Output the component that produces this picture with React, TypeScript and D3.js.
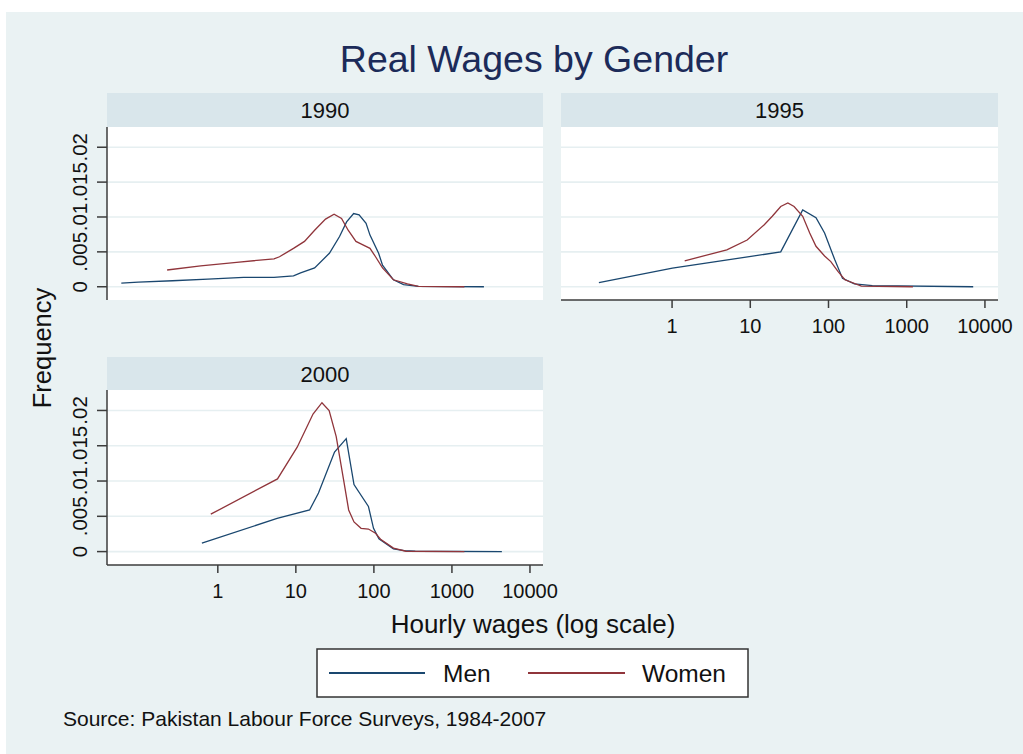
import React from "react";
import * as d3 from "d3";

// ---------- data ----------
const years = ["1990", "1995", "2000"];
const seriesNames = ["Men", "Women"];
const xTickValues = [1, 10, 100, 1000, 10000];
const xTickLabels = ["1", "10", "100", "1000", "10000"];
const yTickValues = [0, 0.005, 0.01, 0.015, 0.02];
const yTickLabels = ["0", ".005", ".01", ".015", ".02"];

const men1990Wage = [0.058, 0.096, 0.263, 0.746, 2.14, 5.25, 9.33, 11.5, 17.4, 26.9, 36.3, 44.7, 55.0, 64.6, 79.4, 89.1, 115, 129, 178, 240, 372, 2570];
const men1990Freq = [0.00053, 0.00067, 0.00086, 0.0011, 0.00133, 0.00133, 0.00157, 0.002, 0.0027, 0.0048, 0.0072, 0.0093, 0.0105, 0.0103, 0.0091, 0.0074, 0.0048, 0.0031, 0.001, 0.0003, 0.00005, 0];
const women1990Wage = [0.224, 0.603, 1.74, 5.25, 6.17, 9.33, 12.9, 17.4, 24.0, 30.9, 38.5, 46.8, 58.9, 69.2, 89.1, 105, 129, 178, 269, 372, 1445];
const women1990Freq = [0.0024, 0.003, 0.0035, 0.004, 0.0043, 0.0055, 0.0065, 0.0081, 0.0097, 0.0104, 0.0098, 0.0081, 0.0065, 0.0061, 0.0055, 0.0043, 0.0027, 0.001, 0.0004, 0.00005, 0];

const men1995Wage = [0.116, 1.01, 10.2, 24.5, 46.8, 69.2, 89.1, 120, 151, 214, 363, 7080];
const men1995Freq = [0.00058, 0.00266, 0.00435, 0.005, 0.011, 0.0099, 0.0077, 0.0039, 0.0012, 0.0004, 0.00015, 0];
const women1995Wage = [1.45, 5.01, 9.12, 15.1, 19.1, 24.5, 30.2, 36.3, 46.8, 57.5, 69.2, 89.1, 107, 132, 162, 263, 1200];
const women1995Freq = [0.0037, 0.0053, 0.0067, 0.0089, 0.0101, 0.0115, 0.012, 0.0115, 0.0101, 0.0077, 0.0058, 0.0044, 0.0036, 0.0022, 0.001, 0.0001, 0];

const men2000Wage = [0.625, 5.75, 15.0, 19.5, 31.3, 44.2, 55.6, 85.1, 98.9, 116, 178, 245, 339, 4365];
const men2000Freq = [0.0012, 0.0047, 0.0059, 0.0083, 0.0141, 0.016, 0.0095, 0.0064, 0.0033, 0.0018, 0.0004, 0.00015, 0.00005, 0];
const women2000Wage = [0.813, 5.82, 10.4, 16.6, 21.6, 26.7, 32.9, 40.7, 47.5, 55.6, 68.5, 85.1, 105, 123, 178, 257, 1445];
const women2000Freq = [0.0053, 0.0103, 0.0148, 0.0195, 0.0211, 0.02, 0.0163, 0.0103, 0.0059, 0.0042, 0.0033, 0.0032, 0.0026, 0.0017, 0.0005, 0.00005, 0];

const panelData = [
  { men: [men1990Wage, men1990Freq], women: [women1990Wage, women1990Freq] },
  { men: [men1995Wage, men1995Freq], women: [women1995Wage, women1995Freq] },
  { men: [men2000Wage, men2000Freq], women: [women2000Wage, women2000Freq] },
];

// ---------- layout ----------
const W = 1023;
const H = 754;
const FONT = "'Liberation Sans', Arial, Helvetica, sans-serif";
const BG = "#eaf2f3";
const STRIP = "#d9e6eb";
const GRID = "#e6eff1";
const AXIS = "#3c3c3c";
const MEN = "#1a476f";
const WOMEN = "#90353b";

const panels = [
  { x0: 107, x1: 543, sy0: 93, y0: 127, y1: 300, yAxis: true, xAxis: false },
  { x0: 561, x1: 998, sy0: 93, y0: 127, y1: 300, yAxis: false, xAxis: true },
  { x0: 107, x1: 543, sy0: 357, y0: 390, y1: 565, yAxis: true, xAxis: true },
];

const xDomain = [Math.pow(10, -1.42), Math.pow(10, 4.167)];
const yDomain = [-0.0019, 0.0229];

function Panel({ p, idx }: { p: any; idx: number }) {
  const x = d3.scaleLog().domain(xDomain).range([p.x0, p.x1]);
  const y = d3.scaleLinear().domain(yDomain).range([p.y1, p.y0]);
  const line = d3
    .line<[number, number]>()
    .x((d) => x(d[0]))
    .y((d) => y(d[1]));
  const d = panelData[idx];
  const toPts = (s: number[][]) => s[0].map((w, i) => [w, s[1][i]] as [number, number]);
  return (
    <g>
      <rect x={p.x0} y={p.sy0} width={p.x1 - p.x0} height={p.y0 - p.sy0} fill={STRIP} />
      <text
        x={(p.x0 + p.x1) / 2}
        y={p.sy0 + 25}
        textAnchor="middle"
        fontSize={22}
        fill="#111"
        fontFamily={FONT}
      >
        {years[idx]}
      </text>
      <rect x={p.x0} y={p.y0} width={p.x1 - p.x0} height={p.y1 - p.y0} fill="#ffffff" />
      {yTickValues.map((v) => (
        <line key={v} x1={p.x0} x2={p.x1} y1={y(v)} y2={y(v)} stroke={GRID} strokeWidth={1.6} />
      ))}
      <path d={line(toPts(d.men)) || ""} fill="none" stroke={MEN} strokeWidth={1.3} />
      <path d={line(toPts(d.women)) || ""} fill="none" stroke={WOMEN} strokeWidth={1.3} />
      {p.yAxis && (
        <g>
          <line x1={p.x0} x2={p.x0} y1={p.y0} y2={p.y1} stroke={AXIS} strokeWidth={1.5} />
          {yTickValues.map((v, i) => (
            <g key={v}>
              <line x1={p.x0 - 10} x2={p.x0} y1={y(v)} y2={y(v)} stroke={AXIS} strokeWidth={1.5} />
              <text
                transform={`translate(${p.x0 - 20},${y(v)}) rotate(-90)`}
                textAnchor="middle"
                fontSize={20.5}
                fill="#111"
                fontFamily={FONT}
              >
                {yTickLabels[i]}
              </text>
            </g>
          ))}
        </g>
      )}
      {p.xAxis && (
        <g>
          <line x1={p.x0} x2={p.x1} y1={p.y1} y2={p.y1} stroke={AXIS} strokeWidth={1.5} />
          {xTickValues.map((v, i) => (
            <g key={v}>
              <line x1={x(v)} x2={x(v)} y1={p.y1} y2={p.y1 + 8} stroke={AXIS} strokeWidth={1.5} />
              <text x={x(v)} y={p.y1 + 33} textAnchor="middle" fontSize={20} fill="#111" fontFamily={FONT}>
                {xTickLabels[i]}
              </text>
            </g>
          ))}
        </g>
      )}
    </g>
  );
}

export default function App() {
  return (
    <svg
      width={W}
      height={H}
      style={{ position: "absolute", left: 0, top: 0, display: "block" }}
      fontFamily={FONT}
    >
      <rect x={0} y={0} width={W} height={H} fill="#ffffff" />
      <rect x={6} y={12} width={W - 6} height={H - 12} fill={BG} />
      <text x={534} y={72} textAnchor="middle" fontSize={37.5} fill="#1c2b59">
        Real Wages by Gender
      </text>
      {panels.map((p, i) => (
        <Panel key={i} p={p} idx={i} />
      ))}
      <text transform="translate(51,348) rotate(-90)" textAnchor="middle" fontSize={25.5} fill="#111">
        Frequency
      </text>
      <text x={533} y={633} textAnchor="middle" fontSize={26} fill="#111">
        Hourly wages (log scale)
      </text>
      <rect x={317} y={649} width={431} height={48} fill="#ffffff" stroke="#333" strokeWidth={1.5} />
      <line x1={329} x2={425} y1={673} y2={673} stroke={MEN} strokeWidth={2} />
      <text x={443} y={682} fontSize={24.5} fill="#111">
        {seriesNames[0]}
      </text>
      <line x1={528} x2={625} y1={673} y2={673} stroke={WOMEN} strokeWidth={2} />
      <text x={642} y={682} fontSize={24.5} fill="#111">
        {seriesNames[1]}
      </text>
      <text x={63} y={726} fontSize={21} fill="#111">
        Source: Pakistan Labour Force Surveys, 1984-2007
      </text>
    </svg>
  );
}
